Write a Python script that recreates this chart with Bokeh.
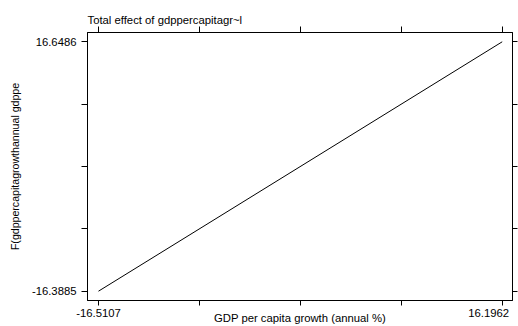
from bokeh.plotting import figure
from bokeh.models import Range1d, LinearAxis, FixedTicker
from bokeh.embed import file_html
from bokeh.resources import INLINE

# data
line_x = [-16.5107, 16.1962]
line_y = [-16.3885, 16.6486]

x_ticks = [-16.5107, -8.333975, -0.15725, 8.019475, 16.1962]
y_ticks = [-16.3885, -8.129225, 0.13005, 8.389325, 16.6486]
x_tick_labels = ["-16.5107", "", "", "", "16.1962"]
y_tick_labels = ["-16.3885", "", "", "", "16.6486"]

title_text = "Total effect of gdppercapitagr~l"
x_title = "GDP per capita growth (annual %)"
y_title = "F(gdppercapitagrowthannual gdppe"

FONT = "Liberation Sans"
NBSP = "\u00a0"

p = figure(width=518, height=326, output_backend="svg", toolbar_location=None,
           x_range=Range1d(-17.40, 17.03), y_range=Range1d(-17.62, 17.88),
           x_axis_location=None, y_axis_location=None,
           min_border_left=87, min_border_right=6, min_border_top=32, min_border_bottom=26)

p.grid.visible = False
p.outline_line_color = "black"
p.outline_line_width = 1
p.background_fill_color = "white"
p.border_fill_color = "white"

p.title.text = title_text
p.title.align = "left"
p.title.text_font = FONT
p.title.text_font_size = "11.3px"
p.title.text_font_style = "normal"
p.title.text_color = "black"
p.title.standoff = 2
p.title.offset = 0

def style_axis(ax, ticks, labels, show_labels, tick_len):
    ax.ticker = FixedTicker(ticks=ticks)
    ax.major_tick_out = tick_len
    ax.major_tick_in = 0
    ax.minor_tick_out = 0
    ax.minor_tick_in = 0
    ax.major_tick_line_color = "black"
    ax.axis_line_color = "black"
    ax.major_label_text_font = FONT
    ax.major_label_text_color = "black"
    if show_labels:
        ax.major_label_overrides = {t: l for t, l in zip(ticks, labels)}
        ax.major_label_text_font_size = "11.3px"
    else:
        ax.major_label_overrides = {t: "" for t in ticks}
        ax.major_label_text_font_size = "0px"
        ax.major_label_standoff = 0

# bottom axis
xb = LinearAxis()
xlabels = list(x_tick_labels)
xlabels[-1] = xlabels[-1] + NBSP * 3
style_axis(xb, x_ticks, xlabels, True, 5)
xb.major_label_standoff = 1
xb.axis_label = x_title
xb.axis_label_text_font = FONT
xb.axis_label_text_font_size = "11.3px"
xb.axis_label_text_font_style = "normal"
xb.axis_label_text_color = "black"
xb.axis_label_standoff = -10
p.add_layout(xb, "below")

# left axis
yl = LinearAxis()
style_axis(yl, y_ticks, y_tick_labels, True, 6)
yl.major_label_standoff = 5
yl.axis_label = y_title
yl.axis_label_text_font = FONT
yl.axis_label_text_font_size = "10.6px"
yl.axis_label_text_font_style = "normal"
yl.axis_label_text_color = "black"
yl.axis_label_standoff = 8
p.add_layout(yl, "left")

# top and right axes (ticks only)
xt = LinearAxis()
style_axis(xt, x_ticks, x_tick_labels, False, 6)
p.add_layout(xt, "above")

yr = LinearAxis()
style_axis(yr, y_ticks, y_tick_labels, False, 5)
p.add_layout(yr, "right")

p.line(line_x, line_y, line_color="black", line_width=1)

open("out.html", "w").write(file_html(p, INLINE))
